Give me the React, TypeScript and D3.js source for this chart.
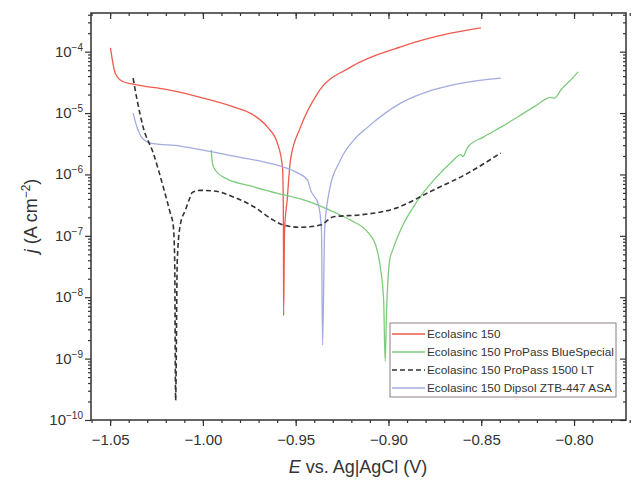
import * as d3 from "d3";
import { useEffect, useRef } from "react";

// Tafel curves: E in V vs Ag|AgCl, j in A cm^-2
const redE = [-1.0498, -1.0473, -1.0435, -1.0376, -1.0192, -1.0014, -0.9836, -0.9728, -0.9652, -0.9598, -0.9571, -0.9567, -0.9566, -0.9565, -0.9560, -0.9546, -0.9528, -0.9474, -0.9382, -0.9204, -0.8934, -0.8664, -0.8502];
const redJ = [1.15e-4, 4.5e-5, 3.3e-5, 2.95e-5, 2.4e-5, 1.8e-5, 1.26e-5, 9.3e-6, 5.9e-6, 3.2e-6, 1.3e-6, 3.8e-7, 1.23e-7, 5.0e-9, 1.23e-7, 3.8e-7, 1.74e-6, 5.9e-6, 2.1e-5, 5.6e-5, 1.2e-4, 2.0e-4, 2.45e-4];

const greenE = [-0.9955, -0.9949, -0.9933, -0.9879, -0.9744, -0.9582, -0.9474, -0.9382, -0.9296, -0.9204, -0.9112, -0.9069, -0.9042, -0.9026, -0.9018, -0.9010, -0.8993, -0.8977, -0.8934, -0.8842, -0.8756, -0.8664, -0.8610, -0.8600, -0.8572, -0.8486, -0.8394, -0.8302, -0.8216, -0.8124, -0.8105, -0.8070, -0.8016, -0.7978];
const greenJ = [2.5e-6, 1.55e-6, 1.17e-6, 8.7e-7, 6.5e-7, 4.8e-7, 4.0e-7, 3.2e-7, 2.45e-7, 1.8e-7, 1.15e-7, 7.1e-8, 2.8e-8, 8.9e-9, 9.0e-10, 6.2e-9, 4.1e-8, 5.9e-8, 1.26e-7, 3.8e-7, 8.1e-7, 1.55e-6, 2.1e-6, 1.95e-6, 2.8e-6, 4.1e-6, 5.9e-6, 8.7e-6, 1.26e-5, 1.8e-5, 1.75e-5, 2.4e-5, 3.5e-5, 4.7e-5];

const blackE = [-1.0376, -1.0354, -1.0322, -1.0268, -1.0214, -1.0176, -1.0160, -1.0152, -1.0147, -1.0138, -1.0122, -1.0095, -1.0068, -1.0057, -1.0014, -0.9944, -0.9836, -0.9728, -0.9620, -0.9566, -0.9474, -0.9366, -0.9296, -0.9150, -0.8972, -0.8756, -0.8572, -0.8394];
const blackJ = [3.7e-5, 1.6e-5, 5.9e-6, 2.25e-6, 6.3e-7, 2.35e-7, 1.5e-7, 4.1e-8, 2.1e-10, 4.1e-8, 1.5e-7, 2.6e-7, 4.3e-7, 5.1e-7, 5.5e-7, 5.4e-7, 4.3e-7, 3.0e-7, 1.8e-7, 1.5e-7, 1.38e-7, 1.5e-7, 2.05e-7, 2.2e-7, 2.75e-7, 5.6e-7, 1.05e-6, 2.25e-6];

const blueE = [-1.0376, -1.0354, -1.0327, -1.0284, -1.0122, -0.9955, -0.9798, -0.9652, -0.9566, -0.9501, -0.9436, -0.9420, -0.9377, -0.9361, -0.9355, -0.9344, -0.9323, -0.9258, -0.9188, -0.9112, -0.8934, -0.8756, -0.8572, -0.8394];
const blueJ = [1.0e-5, 5.75e-6, 3.9e-6, 3.25e-6, 2.9e-6, 2.35e-6, 1.9e-6, 1.55e-6, 1.32e-6, 1.1e-6, 8.1e-7, 5.6e-7, 3.2e-7, 1.23e-7, 1.66e-9, 1.23e-7, 4.6e-7, 1.74e-6, 3.6e-6, 5.9e-6, 1.45e-5, 2.4e-5, 3.2e-5, 3.7e-5];

const seriesNames = [
  "Ecolasinc 150",
  "Ecolasinc 150 ProPass BlueSpecial",
  "Ecolasinc 150 ProPass 1500 LT",
  "Ecolasinc 150 Dipsol ZTB-447 ASA",
];
const seriesColors = ["#ee5a4c", "#7ecb7e", "#333333", "#a3abe0"];
const seriesDash = ["", "", "5,3", ""];

const xTicks = [-1.05, -1.0, -0.95, -0.9, -0.85, -0.8];
const xTickLabels = ["\u22121.05", "\u22121.00", "\u22120.95", "\u22120.90", "\u22120.85", "\u22120.80"];
const yExponents = [-10, -9, -8, -7, -6, -5, -4];

const font = "'Liberation Sans', Arial, sans-serif";

export default function App() {
  const ref = useRef<SVGSVGElement>(null);

  useEffect(() => {
    const svg = d3.select(ref.current);
    svg.selectAll("*").remove();

    const width = 632;
    const height = 484;
    const left = 91;
    const right = 626;
    const top = 13;
    const bottom = 420;

    const x = d3.scaleLinear().domain([-1.0603, -0.772]).range([left, right]);
    const y = d3.scaleLog().domain([1e-10, Math.pow(10, -3.37)]).range([bottom, top]);

    svg.attr("viewBox", [0, 0, width, height]);

    const minorX = d3.range(-1.06, -0.77, 0.01).map((v) => +v.toFixed(2));
    const minorY: number[] = [];
    yExponents.concat([-3]).forEach((e) => {
      for (let k = 2; k <= 9; k++) {
        const v = k * Math.pow(10, e - 1);
        if (v >= 1e-10 && v <= Math.pow(10, -3.37)) minorY.push(v);
      }
    });
    const majorY = yExponents.map((e) => Math.pow(10, e));

    const styleAxis = (g: any) => {
      g.select(".domain").remove();
      g.selectAll("line").attr("stroke", "#333").attr("stroke-width", 1.2);
    };

    // bottom / left, ticks outward
    svg.append("g").attr("transform", `translate(0,${bottom})`)
      .call(d3.axisBottom(x).tickValues(minorX).tickSize(3).tickFormat(() => ""))
      .call(styleAxis);
    svg.append("g").attr("transform", `translate(0,${bottom})`)
      .call(d3.axisBottom(x).tickValues(xTicks).tickSize(6).tickPadding(8)
        .tickFormat((d: any, i: number) => xTickLabels[i]))
      .call(styleAxis)
      .selectAll("text")
      .attr("font-family", font)
      .attr("font-size", 15)
      .attr("fill", "#333");
    svg.append("g").attr("transform", `translate(${left},0)`)
      .call(d3.axisLeft(y).tickValues(minorY).tickSize(3).tickFormat(() => ""))
      .call(styleAxis);
    svg.append("g").attr("transform", `translate(${left},0)`)
      .call(d3.axisLeft(y).tickValues(majorY).tickSize(6).tickFormat(() => ""))
      .call(styleAxis);

    // top / right mirror, ticks inward
    svg.append("g").attr("transform", `translate(0,${top})`)
      .call(d3.axisBottom(x).tickValues(minorX).tickSize(3).tickFormat(() => ""))
      .call(styleAxis);
    svg.append("g").attr("transform", `translate(0,${top})`)
      .call(d3.axisBottom(x).tickValues(xTicks).tickSize(6).tickFormat(() => ""))
      .call(styleAxis);
    svg.append("g").attr("transform", `translate(${right},0)`)
      .call(d3.axisLeft(y).tickValues(minorY).tickSize(3).tickFormat(() => ""))
      .call(styleAxis);
    svg.append("g").attr("transform", `translate(${right},0)`)
      .call(d3.axisLeft(y).tickValues(majorY).tickSize(6).tickFormat(() => ""))
      .call(styleAxis);

    // y tick labels 10^n
    const yl = svg.append("g").attr("font-family", font).attr("fill", "#333");
    yExponents.forEach((e) => {
      const t = yl.append("text")
        .attr("x", left - 8)
        .attr("y", y(Math.pow(10, e)) + 5)
        .attr("text-anchor", "end")
        .attr("font-size", 15);
      t.append("tspan").text("10");
      t.append("tspan").attr("dy", -6).attr("font-size", 10).text("\u2212" + Math.abs(e));
    });

    // frame
    svg.append("rect")
      .attr("x", left).attr("y", top)
      .attr("width", right - left).attr("height", bottom - top)
      .attr("fill", "none").attr("stroke", "#333").attr("stroke-width", 1.5);

    const line = d3.line<[number, number]>()
      .x((d) => x(d[0]))
      .y((d) => y(d[1]))
      .curve(d3.curveMonotoneX);

    const series: [number[], number[]][] = [
      [redE, redJ],
      [greenE, greenJ],
      [blackE, blackJ],
      [blueE, blueJ],
    ];
    const drawOrder = [0, 1, 3, 2];
    drawOrder.forEach((i) => {
      const [es, js] = series[i];
      const pts = es.map((e, k) => [e, js[k]] as [number, number]);
      svg.append("path")
        .attr("d", line(pts))
        .attr("fill", "none")
        .attr("stroke", seriesColors[i])
        .attr("stroke-width", i === 2 ? 1.6 : 1.3)
        .attr("stroke-dasharray", seriesDash[i] || null)
        .attr("stroke-linejoin", "round");
    });

    // legend
    const lg = svg.append("g").attr("transform", "translate(390,323)");
    lg.append("rect")
      .attr("width", 226).attr("height", 74)
      .attr("fill", "white").attr("stroke", "#8a7f7f").attr("stroke-width", 1);
    seriesNames.forEach((name, i) => {
      const yy = 11 + i * 18;
      lg.append("line")
        .attr("x1", 2).attr("x2", 35).attr("y1", yy).attr("y2", yy)
        .attr("stroke", seriesColors[i])
        .attr("stroke-width", i === 2 ? 1.4 : 1.3)
        .attr("stroke-dasharray", seriesDash[i] || null);
      lg.append("text")
        .attr("x", 37).attr("y", yy + 4)
        .attr("font-family", font).attr("font-size", 11.8)
        .attr("fill", "#333")
        .text(name);
    });

    // axis titles
    const xt = svg.append("text")
      .attr("x", 358).attr("y", 473)
      .attr("text-anchor", "middle")
      .attr("font-family", font).attr("font-size", 18)
      .attr("fill", "#333");
    xt.append("tspan").attr("font-style", "italic").text("E");
    xt.append("tspan").text(" vs. Ag|AgCl (V)");

    const yt = svg.append("text")
      .attr("transform", "translate(37,216) rotate(-90)")
      .attr("text-anchor", "middle")
      .attr("font-family", font).attr("font-size", 18)
      .attr("fill", "#333");
    yt.append("tspan").attr("font-style", "italic").text("j");
    yt.append("tspan").text(" (A cm");
    yt.append("tspan").attr("dy", -7).attr("font-size", 12).text("\u22122");
    yt.append("tspan").attr("dy", 7).text(")");
  }, []);

  return (
    <svg
      ref={ref}
      width={632}
      height={484}
      style={{ position: "absolute", left: 0, top: 0, background: "white" }}
    />
  );
}
